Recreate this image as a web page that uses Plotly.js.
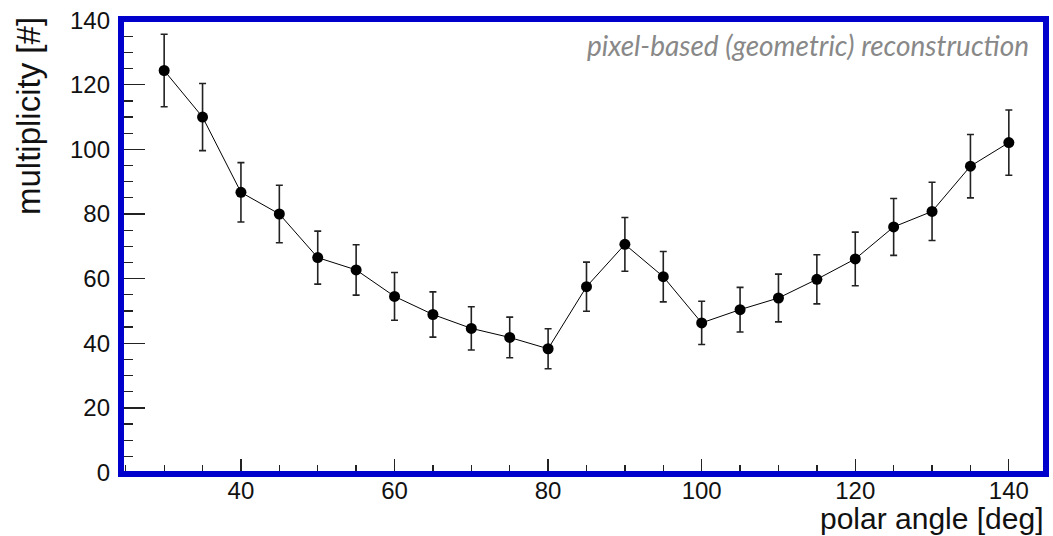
<!DOCTYPE html>
<html>
<head>
<meta charset="utf-8">
<script src="https://cdn.plot.ly/plotly-3.0.1.min.js"></script>
<style>html,body{margin:0;padding:0;background:#fff;}#chart{width:1053px;height:536px;}</style>
</head>
<body>
<div id="chart"></div>
<script>
// Data
const polarAngle = [30, 35, 40, 45, 50, 55, 60, 65, 70, 75, 80, 85, 90, 95, 100, 105, 110, 115, 120, 125, 130, 135, 140];
const multiplicity = [124.4, 110.0, 86.7, 80.0, 66.5, 62.7, 54.5, 48.9, 44.6, 41.8, 38.3, 57.5, 70.6, 60.6, 46.3, 50.4, 54.0, 59.8, 66.1, 76.0, 80.8, 94.8, 102.1];
const multiplicityErr = [11.2, 10.4, 9.2, 8.9, 8.2, 7.8, 7.4, 7.0, 6.7, 6.3, 6.2, 7.6, 8.3, 7.8, 6.7, 6.9, 7.4, 7.6, 8.3, 8.8, 9.0, 9.8, 10.1];
const yTickVals = [0, 20, 40, 60, 80, 100, 120, 140];
const xTickVals = [40, 60, 80, 100, 120, 140];
const xTitle = "polar angle [deg]";
const yTitle = "multiplicity [#]";
const noteText = "pixel-based (geometric) reconstruction";

const trace = {
  x: polarAngle,
  y: multiplicity,
  type: "scatter",
  mode: "lines+markers",
  line: {color: "#000", width: 1},
  marker: {color: "#000", size: 11},
  error_y: {type: "data", array: multiplicityErr, visible: true, color: "#222", thickness: 1.6, width: 3.5},
  showlegend: false,
  hoverinfo: "skip"
};

const tickFont = {family: "Liberation Sans, Arial, sans-serif", size: 24, color: "#111"};

const layout = {
  width: 1053,
  height: 536,
  margin: {l: 121, r: 6.5, t: 18.5, b: 62, pad: 0},
  paper_bgcolor: "#fff",
  plot_bgcolor: "#fff",
  xaxis: {
    range: [24.38, 144.84],
    tickvals: xTickVals,
    ticks: "inside",
    ticklen: 15,
    tickwidth: 1.3,
    tickcolor: "#222",
    tickfont: tickFont,
    ticklabelstandoff: 0,
    showgrid: false,
    zeroline: false,
    showline: false,
    minor: {dtick: 5, tick0: 0, ticks: "inside", ticklen: 9, tickwidth: 1.3, tickcolor: "#222", showgrid: false}
  },
  yaxis: {
    range: [-0.46, 140.34],
    tickvals: yTickVals,
    ticks: "inside",
    ticklen: 24,
    tickwidth: 1.3,
    tickcolor: "#222",
    tickfont: tickFont,
    ticklabelstandoff: 10,
    showgrid: false,
    zeroline: false,
    showline: false,
    minor: {dtick: 5, tick0: 0, ticks: "inside", ticklen: 12, tickwidth: 1.3, tickcolor: "#222", showgrid: false}
  },
  shapes: [{
    type: "rect", xref: "paper", yref: "paper", x0: 0, x1: 1, y0: 0, y1: 1,
    line: {color: "#0000CC", width: 6}, fillcolor: "rgba(0,0,0,0)", layer: "above"
  }],
  annotations: [
    {
      text: xTitle, xref: "paper", yref: "paper", x: 1, y: 0,
      xanchor: "right", yanchor: "top", xshift: 0, yshift: -26,
      showarrow: false, font: {family: "Liberation Sans, Arial, sans-serif", size: 30, color: "#111"}
    },
    {
      text: yTitle, xref: "paper", yref: "paper", x: 0, y: 1,
      xanchor: "center", yanchor: "top", xshift: -93, yshift: 4, textangle: -90,
      showarrow: false, font: {family: "Liberation Sans, Arial, sans-serif", size: 33, color: "#111"}
    },
    {
      text: "<i>" + noteText + "</i>", xref: "paper", yref: "paper", x: 1, y: 1,
      xanchor: "right", yanchor: "top", xshift: -15, yshift: -7,
      showarrow: false, font: {family: "Lato, Open Sans, sans-serif", size: 28, color: "#888"}
    }
  ]
};

Plotly.newPlot("chart", [trace], layout, {displayModeBar: false, staticPlot: true});
</script>
</body>
</html>
